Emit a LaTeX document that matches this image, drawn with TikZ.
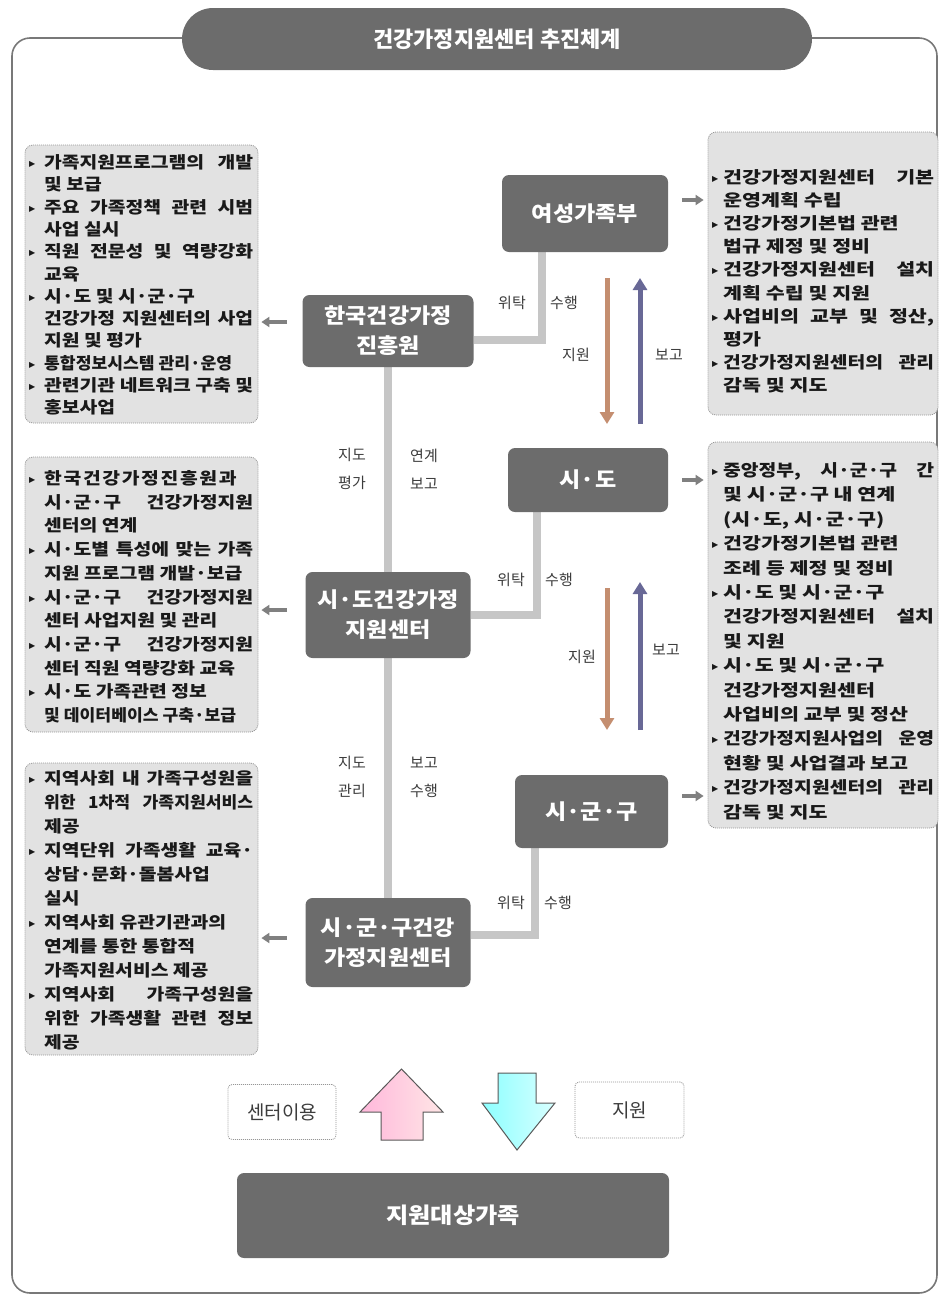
\documentclass[tikz,border=0pt]{standalone}
\usepackage{fontspec}
\setmainfont{Noto Sans CJK KR}
\newfontfamily\lstf{Noto Sans CJK KR}[FakeStretch=1.17]
\newfontfamily\lstr{Noto Sans CJK KR}[FakeStretch=1.25]
\newfontfamily\lstn{Noto Sans CJK KR}[FakeStretch=1.04]
\newfontfamily\boxf{Noto Sans CJK KR}[FakeStretch=1.1]
\newfontfamily\djv{DejaVu Sans}
\usetikzlibrary{arrows.meta}
\definecolor{dboxc}{RGB}{108,108,108}
\definecolor{lboxc}{RGB}{226,226,226}
\definecolor{lborder}{RGB}{150,150,150}
\definecolor{connc}{RGB}{198,198,198}
\definecolor{brownc}{RGB}{196,142,112}
\definecolor{bluec}{RGB}{104,104,150}
\definecolor{sarrc}{RGB}{128,128,128}
\definecolor{txtc}{RGB}{25,25,25}
\definecolor{lblc}{RGB}{60,60,60}
\definecolor{framec}{RGB}{120,120,120}
\newlength{\bulw}
\newcommand{\bul}{\makebox[\bulw][l]{\raisebox{2pt}{\djv\fontsize{8}{8}\selectfont ▶}}}
\newcommand{\itm}{\par\noindent\hangindent=\bulw\hangafter=1 \bul}
\newcommand{\nrw}[1]{{\lstn\bfseries #1}}
\newcommand{\mdl}[1]{{\lstf\bfseries #1}}
\newcommand{\blist}[4]{\begin{minipage}[t]{#1}\setlength{\parindent}{0pt}\setlength{\bulw}{#3}\lstf\fontsize{16.5}{#2}\selectfont\bfseries #4\end{minipage}}
\begin{document}
\begin{tikzpicture}[x=1pt,y=-1pt,
  dbox/.style={fill=dboxc, rounded corners=7pt, text=white, font=\boxf\fontsize{21}{30}\selectfont\bfseries, align=center, inner sep=0pt},
  lbox/.style={fill=lboxc, draw=lborder, line width=.8pt, dash pattern=on 1pt off 1pt, rounded corners=8pt, inner sep=0pt},
  wbox/.style={fill=white, draw=lborder, line width=.8pt, dash pattern=on 1pt off 1pt, rounded corners=4pt, inner sep=0pt, text=lblc, font=\fontsize{19}{19}\selectfont},
  ltxt/.style={anchor=base west, inner sep=0pt, text=txtc},
  lbl/.style={text=lblc, font=\fontsize{15}{28}\selectfont, align=center, inner sep=0pt},
  conn/.style={draw=connc, line width=8pt},
  brownarr/.style={draw=brownc, line width=5pt, -{Triangle[width=14pt,length=12pt]}},
  bluearr/.style={draw=bluec, line width=5pt, -{Triangle[width=14pt,length=12pt]}},
  sarr/.style={draw=sarrc, line width=4.5pt, -{Triangle[width=10pt,length=8pt]}},
]
\pgfdeclarelayer{bg}
\pgfsetlayers{bg,main}
\useasboundingbox (0,0) rectangle (941,1299);
% frame
\draw[draw=framec, line width=1.6pt, rounded corners=18pt] (12,38) rectangle (937,1293);
% title
\node[fill=dboxc, rounded corners=31pt, minimum width=630pt, minimum height=62pt, inner sep=0pt, text=white, font=\fontsize{22}{22}\selectfont\bfseries] (ttl) at (497,39) {건강가정지원센터 추진체계};

% light boxes
\node[lbox, minimum width=233pt, minimum height=278pt] (L1) at (141.5,284) {};
\node[lbox, minimum width=233pt, minimum height=275pt] (L2) at (141.5,594.5) {};
\node[lbox, minimum width=233pt, minimum height=292pt] (L3) at (141.5,909) {};
\node[lbox, minimum width=230pt, minimum height=283pt] (R1) at (823,273.5) {};
\node[lbox, minimum width=230pt, minimum height=386pt] (R2) at (823,635) {};

\node[ltxt] (T1) at (29,168.5) {\blist{224pt}{22.3pt}{15pt}{%
\itm 가족지원프로그램의~개발\linebreak 및~보급
\itm 주요~가족정책~관련~시범\linebreak 사업~실시
\itm 직원~전문성~및~역량강화\linebreak 교육
\itm 시·도~및~시·군·구\newline 건강가정~지원센터의~사업\linebreak 지원~및~평가
\itm \nrw{통합정보시스템~관리·운영}
\itm 관련기관~네트워크~구축~및\linebreak 홍보사업}};

\node[ltxt] (T2) at (29,484.5) {\blist{224pt}{23.7pt}{15pt}{%
\itm {\addfontfeature{LetterSpace=10}한국건강가정진흥원과}\newline 시·군·구~건강가정지원\linebreak 센터의~연계
\itm 시·도별~특성에~맞는~가족\linebreak 지원~프로그램~개발·보급
\itm 시·군·구~건강가정지원\linebreak 센터~사업지원~및~관리
\itm 시·군·구~건강가정지원\linebreak 센터~직원~역량강화~교육
\itm 시·도~가족관련~정보\newline \nrw{및~데이터베이스~구축·보급}}};

\node[ltxt] (T3) at (29,784.5) {\blist{224pt}{24pt}{15pt}{%
\itm 지역사회~내~가족구성원을\linebreak \nrw{위한~1차적~가족지원서비스}\linebreak 제공
\itm 지역단위~가족생활~교육·\linebreak 상담·문화·돌봄사업\newline 실시
\itm 지역사회~유관기관과의\newline 연계를~통한~통합적\newline 가족지원서비스~제공
\itm 지역사회~가족구성원을\linebreak 위한~가족생활~관련~정보\linebreak 제공}};

\node[ltxt] (T4) at (712,183.5) {\blist{222pt}{23.1pt}{11pt}{\lstr\bfseries
\itm 건강가정지원센터~기본\linebreak 운영계획~수립
\itm 건강가정기본법~관련\newline 법규~제정~및~정비
\itm 건강가정지원센터~설치\linebreak 계획~수립~및~지원
\itm 사업비의~교부~및~정산,\linebreak 평가
\itm \mdl{건강가정지원센터의~관리}\linebreak 감독~및~지도}};

\node[ltxt] (T5) at (712,476.5) {\blist{222pt}{24.4pt}{11pt}{\lstr\bfseries
\itm \mdl{중앙정부,~시·군·구~간}\linebreak 및~시·군·구~내~연계\newline (시·도,~시·군·구)
\itm 건강가정기본법~관련\newline 조례~등~제정~및~정비
\itm 시·도~및~시·군·구\newline 건강가정지원센터~설치\linebreak 및~지원
\itm 시·도~및~시·군·구\newline 건강가정지원센터\newline 사업비의~교부~및~정산
\itm \mdl{건강가정지원사업의~운영}\linebreak 현황~및~사업결과~보고
\itm \mdl{건강가정지원센터의~관리}\linebreak 감독~및~지도}};

% dark boxes
\node[dbox, minimum width=166pt, minimum height=77pt] (yeo) at (585,213.5) {여성가족부};
\node[dbox, minimum width=171pt, minimum height=72pt] (jin) at (388,331) {한국건강가정\\진흥원};
\node[dbox, minimum width=160pt, minimum height=64pt] (sido) at (588,480) {시·도};
\node[dbox, minimum width=165pt, minimum height=86pt] (sdc) at (388,615) {시·도건강가정\\지원센터};
\node[dbox, minimum width=153pt, minimum height=73pt] (sgg) at (591.5,811.5) {시·군·구};
\node[dbox, minimum width=165pt, minimum height=89pt] (sgc) at (388,942.5) {시·군·구건강\\가정지원센터};
\node[dbox, minimum width=432pt, minimum height=85pt, font=\boxf\fontsize{22}{22}\selectfont\bfseries] (fam) at (453,1215.5) {지원대상가족};

% connectors
\coordinate (c1) at (542,340);
\coordinate (c2) at (537,615);
\coordinate (c3) at (535,935);
\begin{pgfonlayer}{bg}
\draw[conn] (c1 |- yeo.south) -- (c1) -- (c1 -| jin.east);
\draw[conn] (c2 |- sido.south) -- (c2) -- (c2 -| sdc.east);
\draw[conn] (c3 |- sgg.south) -- (c3) -- (c3 -| sgc.east);
\draw[conn] (jin.south) -- (sdc.north);
\draw[conn] (sdc.south) -- (sgc.north);
\end{pgfonlayer}

% support / report arrows
\coordinate (b1s) at (607,278); \coordinate (b1e) at (607,424);
\coordinate (u1s) at (640,424); \coordinate (u1e) at (640,278);
\coordinate (b2s) at (607,588); \coordinate (b2e) at (607,730);
\coordinate (u2s) at (640,730); \coordinate (u2e) at (640,582);
\draw[brownarr] (b1s) -- (b1e);
\draw[bluearr] (u1s) -- (u1e);
\draw[brownarr] (b2s) -- (b2e);
\draw[bluearr] (u2s) -- (u2e);

% small gray arrows
\coordinate (r1) at (682,200);
\coordinate (r2) at (682,480);
\coordinate (r3) at (682,796);
\coordinate (l1) at (287,322);
\coordinate (l2) at (287,610);
\coordinate (l3) at (287,938);
\draw[sarr, shorten >=4pt] (r1) -- (r1 -| R1.west);
\draw[sarr, shorten >=4pt] (r2) -- (r2 -| R2.west);
\draw[sarr, shorten >=4pt] (r3) -- (r3 -| R2.west);
\draw[sarr, shorten >=3pt] (l1) -- (l1 -| L1.east);
\draw[sarr, shorten >=3pt] (l2) -- (l2 -| L2.east);
\draw[sarr, shorten >=3pt] (l3) -- (l3 -| L3.east);

% labels
\node[lbl] (w1) at (512,303) {위탁};
\node[lbl] (s1) at (564,303) {수행};
\node[lbl] (j1) at (576,355) {지원};
\node[lbl] (g1) at (669,355) {보고};
\node[lbl] (k1) at (352,469) {지도\\평가};
\node[lbl] (k2) at (424,469) {연계\\보고};
\node[lbl] (w2) at (511,580) {위탁};
\node[lbl] (s2) at (559,580) {수행};
\node[lbl] (j2) at (582,657) {지원};
\node[lbl] (g2) at (666,650) {보고};
\node[lbl] (k3) at (352,777) {지도\\관리};
\node[lbl] (k4) at (424,777) {보고\\수행};
\node[lbl] (w3) at (511,903) {위탁};
\node[lbl] (s3) at (558,903) {수행};

% bottom
\node[wbox, minimum width=108pt, minimum height=55pt] (use) at (282,1112) {센터이용};
\node[wbox, minimum width=109pt, minimum height=56pt] (supp) at (629.5,1110) {지원};
\path[draw=black!65, line width=1pt, left color=pink!80!magenta!70, right color=pink!40] (381,1140) -- (381,1112) -- (360,1112) -- (401.5,1069) -- (443,1112) -- (423,1112) -- (423,1140) -- cycle;
\path[draw=black!65, line width=1pt, left color=cyan!45, right color=cyan!15] (498,1073) -- (536,1073) -- (536,1103) -- (555,1103) -- (517,1150) -- (482,1103) -- (498,1103) -- cycle;
\end{tikzpicture}
\end{document}
